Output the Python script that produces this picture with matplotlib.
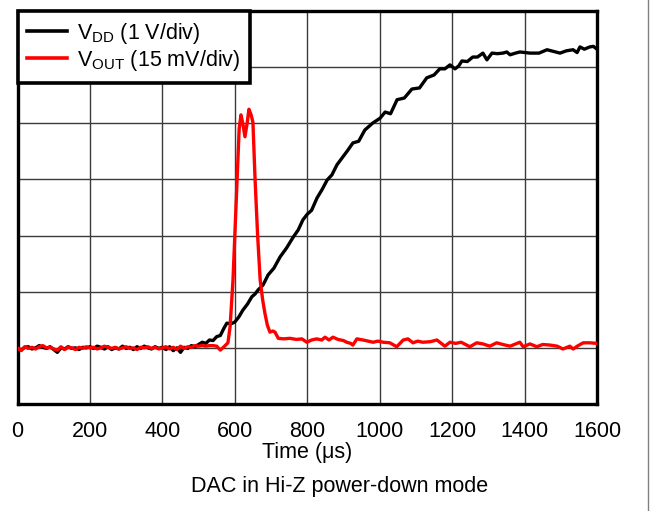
import matplotlib
matplotlib.use("Agg")
import matplotlib.pyplot as plt
from matplotlib.lines import Line2D

plt.rcParams['font.family'] = ['Liberation Sans', 'DejaVu Sans']
plt.rcParams['mathtext.fontset'] = 'custom'
plt.rcParams['mathtext.rm'] = 'Liberation Sans'
plt.rcParams['mathtext.it'] = 'Liberation Sans'

x_ticks = [0, 200, 400, 600, 800, 1000, 1200, 1400, 1600]
x_label = "Time (μs)"
caption = "DAC in Hi-Z power-down mode"
vdd_label = r"V$_{\mathrm{DD}}$ (1 V/div)"
vout_label = r"V$_{\mathrm{OUT}}$ (15 mV/div)"

vdd_t = [0, 10, 20, 30, 40, 50, 60, 70, 80, 90, 100, 110, 120, 130, 140, 150, 160, 170, 180, 190,
         200, 210, 220, 230, 240, 250, 260, 270, 280, 290, 300, 310, 320, 330, 340, 350, 360, 370, 380, 390,
         400, 410, 420, 430, 440, 450, 460, 470, 480, 490, 500, 510, 520, 530, 540, 550, 560, 570, 578, 590,
         600, 611, 622, 635, 647, 656, 664, 678, 692, 708, 725, 743, 761, 775, 788, 800, 812, 827, 841, 855,
         868, 882, 896, 912, 926, 942, 959, 980, 1001, 1015, 1030, 1048, 1068, 1089, 1110, 1130, 1150, 1166, 1180, 1194,
         1208, 1218, 1227, 1242, 1257, 1270, 1285, 1296, 1310, 1325, 1340, 1351, 1360, 1375, 1387, 1400, 1415, 1440, 1462, 1480,
         1498, 1515, 1534, 1545, 1553, 1565, 1580, 1590, 1600]
vdd_v = [1.00, 0.96, 1.01, 1.02, 0.98, 1.00, 1.04, 1.01, 0.99, 1.02, 0.97, 0.92, 1.00, 0.98, 1.02, 0.99, 1.00, 0.97, 1.01, 1.00,
         1.02, 0.99, 1.03, 1.01, 0.98, 1.02, 0.97, 1.00, 0.98, 1.03, 0.99, 1.01, 0.97, 1.02, 0.99, 1.03, 1.00, 0.98, 1.02, 0.99,
         1.01, 0.97, 1.02, 0.95, 1.00, 0.92, 1.01, 0.99, 1.04, 1.02, 1.06, 1.10, 1.08, 1.14, 1.13, 1.20, 1.22, 1.35, 1.44, 1.43,
         1.46, 1.55, 1.67, 1.78, 1.91, 1.96, 2.03, 2.12, 2.30, 2.42, 2.62, 2.78, 2.97, 3.10, 3.28, 3.38, 3.45, 3.67, 3.82, 3.99,
         4.08, 4.26, 4.38, 4.52, 4.65, 4.68, 4.88, 5.00, 5.09, 5.20, 5.17, 5.42, 5.45, 5.61, 5.63, 5.81, 5.86, 5.97, 5.97, 6.04,
         5.97, 6.02, 6.11, 6.10, 6.18, 6.18, 6.25, 6.13, 6.25, 6.24, 6.25, 6.27, 6.22, 6.25, 6.27, 6.26, 6.25, 6.25, 6.31, 6.28,
         6.25, 6.29, 6.31, 6.26, 6.36, 6.32, 6.36, 6.37, 6.32]

vout_t = [0, 10, 20, 30, 40, 50, 60, 70, 80, 90, 100, 110, 120, 130, 140, 150, 160, 170, 180, 190,
          200, 210, 220, 230, 240, 250, 260, 270, 280, 290, 300, 310, 320, 330, 340, 350, 360, 370, 380, 390,
          400, 410, 420, 430, 440, 450, 460, 470, 480, 490, 500, 510, 520, 530, 540, 550, 560, 570, 581, 587,
          595, 600, 606, 612, 617, 622, 628, 634, 639, 645, 650, 656, 663, 670, 677, 683, 690, 697, 705, 711,
          720, 735, 752, 770, 785, 799, 812, 826, 840, 849, 860, 871, 885, 900, 909, 920, 926, 937, 954, 968,
          982, 995, 1010, 1028, 1047, 1065, 1078, 1092, 1105, 1119, 1140, 1158, 1170, 1180, 1194, 1210, 1225, 1249, 1268, 1285,
          1304, 1323, 1340, 1360, 1375, 1387, 1396, 1415, 1434, 1450, 1470, 1490, 1506, 1525, 1534, 1548, 1562, 1580, 1600]
vout_v = [1.00, 0.95, 1.02, 0.99, 1.01, 0.98, 1.02, 1.04, 1.00, 1.01, 0.98, 0.96, 1.02, 0.97, 1.01, 1.00, 0.97, 1.01, 0.99, 1.02,
          1.00, 1.01, 0.98, 1.00, 1.03, 1.01, 0.99, 1.01, 0.98, 1.00, 1.02, 0.99, 1.00, 0.97, 1.01, 1.00, 1.02, 0.99, 1.01, 0.98,
          1.00, 1.02, 0.98, 1.01, 0.97, 1.03, 0.99, 1.02, 1.01, 1.04, 1.03, 1.04, 1.03, 1.04, 1.04, 1.03, 0.96, 1.02, 1.09, 1.38,
          2.21, 3.00, 3.99, 4.90, 5.15, 5.00, 4.76, 5.00, 5.25, 5.15, 5.02, 3.99, 3.00, 2.21, 1.85, 1.62, 1.40, 1.28, 1.30, 1.28,
          1.17, 1.16, 1.17, 1.15, 1.16, 1.10, 1.14, 1.16, 1.14, 1.19, 1.14, 1.19, 1.15, 1.13, 1.10, 1.08, 1.05, 1.16, 1.14, 1.12,
          1.10, 1.12, 1.10, 1.09, 1.02, 1.14, 1.16, 1.09, 1.12, 1.10, 1.11, 1.14, 1.08, 1.03, 1.10, 1.08, 1.10, 1.02, 1.09, 1.07,
          1.03, 1.09, 1.06, 1.03, 1.07, 1.10, 1.02, 1.07, 1.02, 1.06, 1.05, 1.03, 0.98, 1.03, 0.98, 1.04, 1.09, 1.09, 1.08]

W, H = 651, 511
FS = 15.5
fig = plt.figure(figsize=(W / 100, H / 100), dpi=100)
ax = fig.add_axes([17.5 / W, (H - 404) / H, (597 - 17.5) / W, (404 - 11) / H])

ax.plot(vdd_t, vdd_v, color='black', lw=2.4, label=vdd_label, zorder=3)
ax.plot(vout_t, vout_v, color='#ff0000', lw=2.4, label=vout_label, zorder=4)

ax.set_xlim(0, 1600)
ax.set_ylim(0, 7)
ax.set_xticks(x_ticks)
ax.set_xticklabels([str(v) for v in x_ticks], fontsize=FS)
ax.set_yticks([1, 2, 3, 4, 5, 6])
ax.set_yticklabels([])
ax.tick_params(axis='both', length=0, pad=12)
ax.grid(True, color='#3a3a3a', lw=1.0)
ax.set_axisbelow(True)
for s in ax.spines.values():
    s.set_linewidth(2.4)
    s.set_color('black')
ax.set_xlabel(x_label, fontsize=FS, labelpad=0)

leg = ax.legend(loc='upper left', bbox_to_anchor=(0, 1), fontsize=FS, frameon=True,
                fancybox=False, handlelength=1.85, handletextpad=0.45, borderpad=0.45,
                labelspacing=0.1, borderaxespad=0)
leg.get_frame().set_edgecolor('black')
leg.get_frame().set_linewidth(2.6)
leg.get_frame().set_alpha(1)
for lh in leg.get_lines():
    lh.set_linewidth(2.6)

fig.text(340 / W, (H - 486) / H, caption, ha='center', va='center', fontsize=FS)
fig.add_artist(Line2D([648 / W, 648 / W], [0, 1], color='#808080', lw=1.0))

fig.savefig('out.png', dpi=100)
